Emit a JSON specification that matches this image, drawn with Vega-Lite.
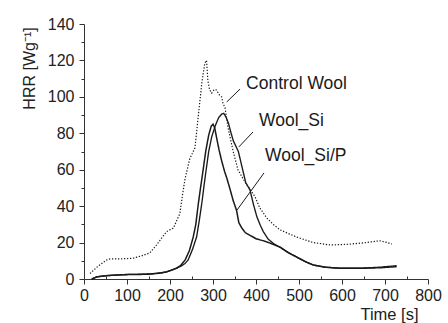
{
  "$schema": "https://vega.github.io/schema/vega-lite/v6.json",
  "width": 344,
  "height": 255,
  "autosize": {"type": "none"},
  "padding": {"left": 84, "top": 24, "right": 20, "bottom": 44},
  "background": "white",
  "config": {
    "view": {"stroke": null},
    "font": "Liberation Sans",
    "axis": {
      "domainColor": "#333",
      "tickColor": "#333",
      "labelColor": "#222",
      "titleColor": "#222",
      "labelFont": "Liberation Sans",
      "titleFont": "Liberation Sans",
      "titleFontWeight": "normal",
      "labelOverlap": false,
      "grid": false
    }
  },
  "datasets": {
    "curves": [
      {"series": "Control Wool", "t": 14, "hrr": 3},
      {"series": "Control Wool", "t": 30, "hrr": 6.5},
      {"series": "Control Wool", "t": 52, "hrr": 10.4},
      {"series": "Control Wool", "t": 60, "hrr": 11},
      {"series": "Control Wool", "t": 76, "hrr": 11},
      {"series": "Control Wool", "t": 100, "hrr": 11.2},
      {"series": "Control Wool", "t": 114, "hrr": 11.4},
      {"series": "Control Wool", "t": 135, "hrr": 12.8},
      {"series": "Control Wool", "t": 153, "hrr": 14.3},
      {"series": "Control Wool", "t": 169, "hrr": 18.7},
      {"series": "Control Wool", "t": 182, "hrr": 23},
      {"series": "Control Wool", "t": 192, "hrr": 26},
      {"series": "Control Wool", "t": 208, "hrr": 28},
      {"series": "Control Wool", "t": 223, "hrr": 36},
      {"series": "Control Wool", "t": 229, "hrr": 46},
      {"series": "Control Wool", "t": 235, "hrr": 55},
      {"series": "Control Wool", "t": 246, "hrr": 66},
      {"series": "Control Wool", "t": 258, "hrr": 72},
      {"series": "Control Wool", "t": 266, "hrr": 90},
      {"series": "Control Wool", "t": 274, "hrr": 107.6},
      {"series": "Control Wool", "t": 281, "hrr": 118.6},
      {"series": "Control Wool", "t": 285, "hrr": 120},
      {"series": "Control Wool", "t": 288, "hrr": 109},
      {"series": "Control Wool", "t": 292, "hrr": 104},
      {"series": "Control Wool", "t": 297, "hrr": 102},
      {"series": "Control Wool", "t": 303, "hrr": 104},
      {"series": "Control Wool", "t": 308, "hrr": 103.8},
      {"series": "Control Wool", "t": 315, "hrr": 101},
      {"series": "Control Wool", "t": 320, "hrr": 100},
      {"series": "Control Wool", "t": 323, "hrr": 96.6},
      {"series": "Control Wool", "t": 328, "hrr": 94},
      {"series": "Control Wool", "t": 335, "hrr": 83},
      {"series": "Control Wool", "t": 347, "hrr": 70},
      {"series": "Control Wool", "t": 358, "hrr": 60},
      {"series": "Control Wool", "t": 375, "hrr": 53},
      {"series": "Control Wool", "t": 390, "hrr": 48},
      {"series": "Control Wool", "t": 398, "hrr": 45},
      {"series": "Control Wool", "t": 409, "hrr": 39},
      {"series": "Control Wool", "t": 425, "hrr": 33.5},
      {"series": "Control Wool", "t": 440, "hrr": 30},
      {"series": "Control Wool", "t": 456, "hrr": 27},
      {"series": "Control Wool", "t": 475, "hrr": 25},
      {"series": "Control Wool", "t": 495, "hrr": 23},
      {"series": "Control Wool", "t": 533, "hrr": 20},
      {"series": "Control Wool", "t": 572, "hrr": 18.7},
      {"series": "Control Wool", "t": 610, "hrr": 19},
      {"series": "Control Wool", "t": 649, "hrr": 19.8},
      {"series": "Control Wool", "t": 688, "hrr": 21},
      {"series": "Control Wool", "t": 705, "hrr": 20},
      {"series": "Control Wool", "t": 716, "hrr": 19.2},

      {"series": "Wool_Si/P", "t": 18, "hrr": 0},
      {"series": "Wool_Si/P", "t": 30, "hrr": 1.2},
      {"series": "Wool_Si/P", "t": 50, "hrr": 1.8},
      {"series": "Wool_Si/P", "t": 77, "hrr": 2.2},
      {"series": "Wool_Si/P", "t": 100, "hrr": 2.4},
      {"series": "Wool_Si/P", "t": 130, "hrr": 2.5},
      {"series": "Wool_Si/P", "t": 155, "hrr": 2.7},
      {"series": "Wool_Si/P", "t": 180, "hrr": 3.3},
      {"series": "Wool_Si/P", "t": 193, "hrr": 4},
      {"series": "Wool_Si/P", "t": 205, "hrr": 5},
      {"series": "Wool_Si/P", "t": 216, "hrr": 6},
      {"series": "Wool_Si/P", "t": 225, "hrr": 7.5},
      {"series": "Wool_Si/P", "t": 235, "hrr": 10.4},
      {"series": "Wool_Si/P", "t": 245, "hrr": 15.5},
      {"series": "Wool_Si/P", "t": 254, "hrr": 23},
      {"series": "Wool_Si/P", "t": 260, "hrr": 30},
      {"series": "Wool_Si/P", "t": 266, "hrr": 41.6},
      {"series": "Wool_Si/P", "t": 271, "hrr": 50},
      {"series": "Wool_Si/P", "t": 277, "hrr": 59.8},
      {"series": "Wool_Si/P", "t": 283, "hrr": 70},
      {"series": "Wool_Si/P", "t": 290, "hrr": 79},
      {"series": "Wool_Si/P", "t": 296, "hrr": 84},
      {"series": "Wool_Si/P", "t": 300, "hrr": 85},
      {"series": "Wool_Si/P", "t": 304, "hrr": 83},
      {"series": "Wool_Si/P", "t": 308, "hrr": 78},
      {"series": "Wool_Si/P", "t": 314, "hrr": 71},
      {"series": "Wool_Si/P", "t": 320, "hrr": 65},
      {"series": "Wool_Si/P", "t": 327, "hrr": 59},
      {"series": "Wool_Si/P", "t": 332, "hrr": 55.5},
      {"series": "Wool_Si/P", "t": 340, "hrr": 49},
      {"series": "Wool_Si/P", "t": 347, "hrr": 43},
      {"series": "Wool_Si/P", "t": 355, "hrr": 37.5},
      {"series": "Wool_Si/P", "t": 360, "hrr": 31},
      {"series": "Wool_Si/P", "t": 367, "hrr": 28},
      {"series": "Wool_Si/P", "t": 375, "hrr": 25.5},
      {"series": "Wool_Si/P", "t": 386, "hrr": 24},
      {"series": "Wool_Si/P", "t": 401, "hrr": 22},
      {"series": "Wool_Si/P", "t": 417, "hrr": 21},
      {"series": "Wool_Si/P", "t": 435, "hrr": 19.5},
      {"series": "Wool_Si/P", "t": 456, "hrr": 17.5},
      {"series": "Wool_Si/P", "t": 475, "hrr": 14.5},
      {"series": "Wool_Si/P", "t": 495, "hrr": 12},
      {"series": "Wool_Si/P", "t": 515, "hrr": 9.5},
      {"series": "Wool_Si/P", "t": 533, "hrr": 7.7},
      {"series": "Wool_Si/P", "t": 560, "hrr": 6.5},
      {"series": "Wool_Si/P", "t": 595, "hrr": 5.9},
      {"series": "Wool_Si/P", "t": 649, "hrr": 5.9},
      {"series": "Wool_Si/P", "t": 690, "hrr": 6.2},
      {"series": "Wool_Si/P", "t": 727, "hrr": 6.8},

      {"series": "Wool_Si", "t": 18, "hrr": 0},
      {"series": "Wool_Si", "t": 30, "hrr": 1.2},
      {"series": "Wool_Si", "t": 50, "hrr": 1.8},
      {"series": "Wool_Si", "t": 77, "hrr": 2.2},
      {"series": "Wool_Si", "t": 100, "hrr": 2.5},
      {"series": "Wool_Si", "t": 130, "hrr": 2.6},
      {"series": "Wool_Si", "t": 155, "hrr": 2.8},
      {"series": "Wool_Si", "t": 180, "hrr": 3.4},
      {"series": "Wool_Si", "t": 193, "hrr": 4},
      {"series": "Wool_Si", "t": 205, "hrr": 5},
      {"series": "Wool_Si", "t": 216, "hrr": 6},
      {"series": "Wool_Si", "t": 225, "hrr": 7},
      {"series": "Wool_Si", "t": 235, "hrr": 8.5},
      {"series": "Wool_Si", "t": 242, "hrr": 10.4},
      {"series": "Wool_Si", "t": 252, "hrr": 16},
      {"series": "Wool_Si", "t": 262, "hrr": 23.2},
      {"series": "Wool_Si", "t": 268, "hrr": 32},
      {"series": "Wool_Si", "t": 274, "hrr": 41.6},
      {"series": "Wool_Si", "t": 279, "hrr": 51},
      {"series": "Wool_Si", "t": 284, "hrr": 59.8},
      {"series": "Wool_Si", "t": 290, "hrr": 70},
      {"series": "Wool_Si", "t": 297, "hrr": 78},
      {"series": "Wool_Si", "t": 305, "hrr": 84},
      {"series": "Wool_Si", "t": 313, "hrr": 88.5},
      {"series": "Wool_Si", "t": 320, "hrr": 90.5},
      {"series": "Wool_Si", "t": 325, "hrr": 91},
      {"series": "Wool_Si", "t": 330, "hrr": 89},
      {"series": "Wool_Si", "t": 336, "hrr": 85.5},
      {"series": "Wool_Si", "t": 341, "hrr": 81},
      {"series": "Wool_Si", "t": 347, "hrr": 76},
      {"series": "Wool_Si", "t": 353, "hrr": 73},
      {"series": "Wool_Si", "t": 359, "hrr": 70},
      {"series": "Wool_Si", "t": 365, "hrr": 64},
      {"series": "Wool_Si", "t": 370, "hrr": 59},
      {"series": "Wool_Si", "t": 376, "hrr": 53},
      {"series": "Wool_Si", "t": 386, "hrr": 48.9},
      {"series": "Wool_Si", "t": 394, "hrr": 41},
      {"series": "Wool_Si", "t": 402, "hrr": 34.2},
      {"series": "Wool_Si", "t": 410, "hrr": 29.5},
      {"series": "Wool_Si", "t": 417, "hrr": 26},
      {"series": "Wool_Si", "t": 428, "hrr": 22},
      {"series": "Wool_Si", "t": 440, "hrr": 19.6},
      {"series": "Wool_Si", "t": 456, "hrr": 17.4},
      {"series": "Wool_Si", "t": 475, "hrr": 14.5},
      {"series": "Wool_Si", "t": 495, "hrr": 12},
      {"series": "Wool_Si", "t": 515, "hrr": 9.5},
      {"series": "Wool_Si", "t": 533, "hrr": 7.7},
      {"series": "Wool_Si", "t": 560, "hrr": 6.5},
      {"series": "Wool_Si", "t": 595, "hrr": 5.9},
      {"series": "Wool_Si", "t": 649, "hrr": 6},
      {"series": "Wool_Si", "t": 690, "hrr": 6.5},
      {"series": "Wool_Si", "t": 727, "hrr": 7.3}
    ],
    "leaders": [
      {"label": "Control Wool", "t": 363, "hrr": 104.3, "t2": 332, "hrr2": 97.2},
      {"label": "Wool_Si", "t": 393, "hrr": 80.7, "t2": 360, "hrr2": 72.5},
      {"label": "Wool_Si/P", "t": 418.6, "hrr": 58.2, "t2": 356, "hrr2": 37.9}
    ],
    "annotations": [
      {"label": "Control Wool", "t": 377, "hrr": 106.8},
      {"label": "Wool_Si", "t": 407, "hrr": 86.5},
      {"label": "Wool_Si/P", "t": 421, "hrr": 67.5}
    ]
  },
  "encoding": {
    "x": {
      "field": "t", "type": "quantitative",
      "scale": {"domain": [0, 800], "nice": false},
      "axis": {
        "title": "Time [s]",
        "values": [0, 50, 100, 150, 200, 250, 300, 350, 400, 450, 500, 550, 600, 650, 700, 750, 800],
        "labelExpr": "datum.value % 100 === 0 ? datum.label : ''",
        "labelFontSize": 16,
        "tickSize": {"condition": {"test": "datum.value % 100 === 0", "value": 5}, "value": -3},
        "labelPadding": 3,
        "labelFlush": false,
        "labelOverlap": false,
        "titleX": 334,
        "titleY": 35,
        "titleAlign": "right",
        "titleBaseline": "middle",
        "titleFontSize": 16.5
      }
    },
    "y": {
      "field": "hrr", "type": "quantitative",
      "scale": {"domain": [0, 140], "nice": false},
      "axis": {
        "title": "HRR [Wg⁻¹]",
        "values": [0, 10, 20, 30, 40, 50, 60, 70, 80, 90, 100, 110, 120, 130, 140],
        "labelExpr": "datum.value % 20 === 0 ? datum.label : ''",
        "labelFontSize": 16,
        "tickSize": {"condition": {"test": "datum.value % 20 === 0", "value": 5}, "value": 3},
        "labelPadding": 5,
        "labelFlush": false,
        "labelOverlap": false,
        "titleX": -55,
        "titleY": 44,
        "titleAlign": "center",
        "titleBaseline": "middle",
        "titleFontSize": 16
      }
    }
  },
  "layer": [
    {
      "data": {"name": "curves"},
      "mark": {"type": "line", "color": "#1a1a1a"},
      "encoding": {
        "detail": {"field": "series"},
        "strokeDash": {
          "field": "series", "type": "nominal",
          "scale": {"domain": ["Control Wool", "Wool_Si", "Wool_Si/P"], "range": [[1.3, 1.7], [1, 0], [1, 0]]},
          "legend": null
        },
        "strokeWidth": {
          "field": "series", "type": "nominal",
          "scale": {"domain": ["Control Wool", "Wool_Si", "Wool_Si/P"], "range": [1.2, 1.5, 1.5]},
          "legend": null
        }
      }
    },
    {
      "data": {"name": "leaders"},
      "mark": {"type": "rule", "color": "#1a1a1a", "strokeWidth": 1},
      "encoding": {
        "x2": {"field": "t2"},
        "y2": {"field": "hrr2"}
      }
    },
    {
      "data": {"name": "annotations"},
      "mark": {"type": "text", "align": "left", "baseline": "middle", "fontSize": 17.5, "font": "Liberation Sans", "color": "#1a1a1a"},
      "encoding": {
        "text": {"field": "label"}
      }
    }
  ]
}
